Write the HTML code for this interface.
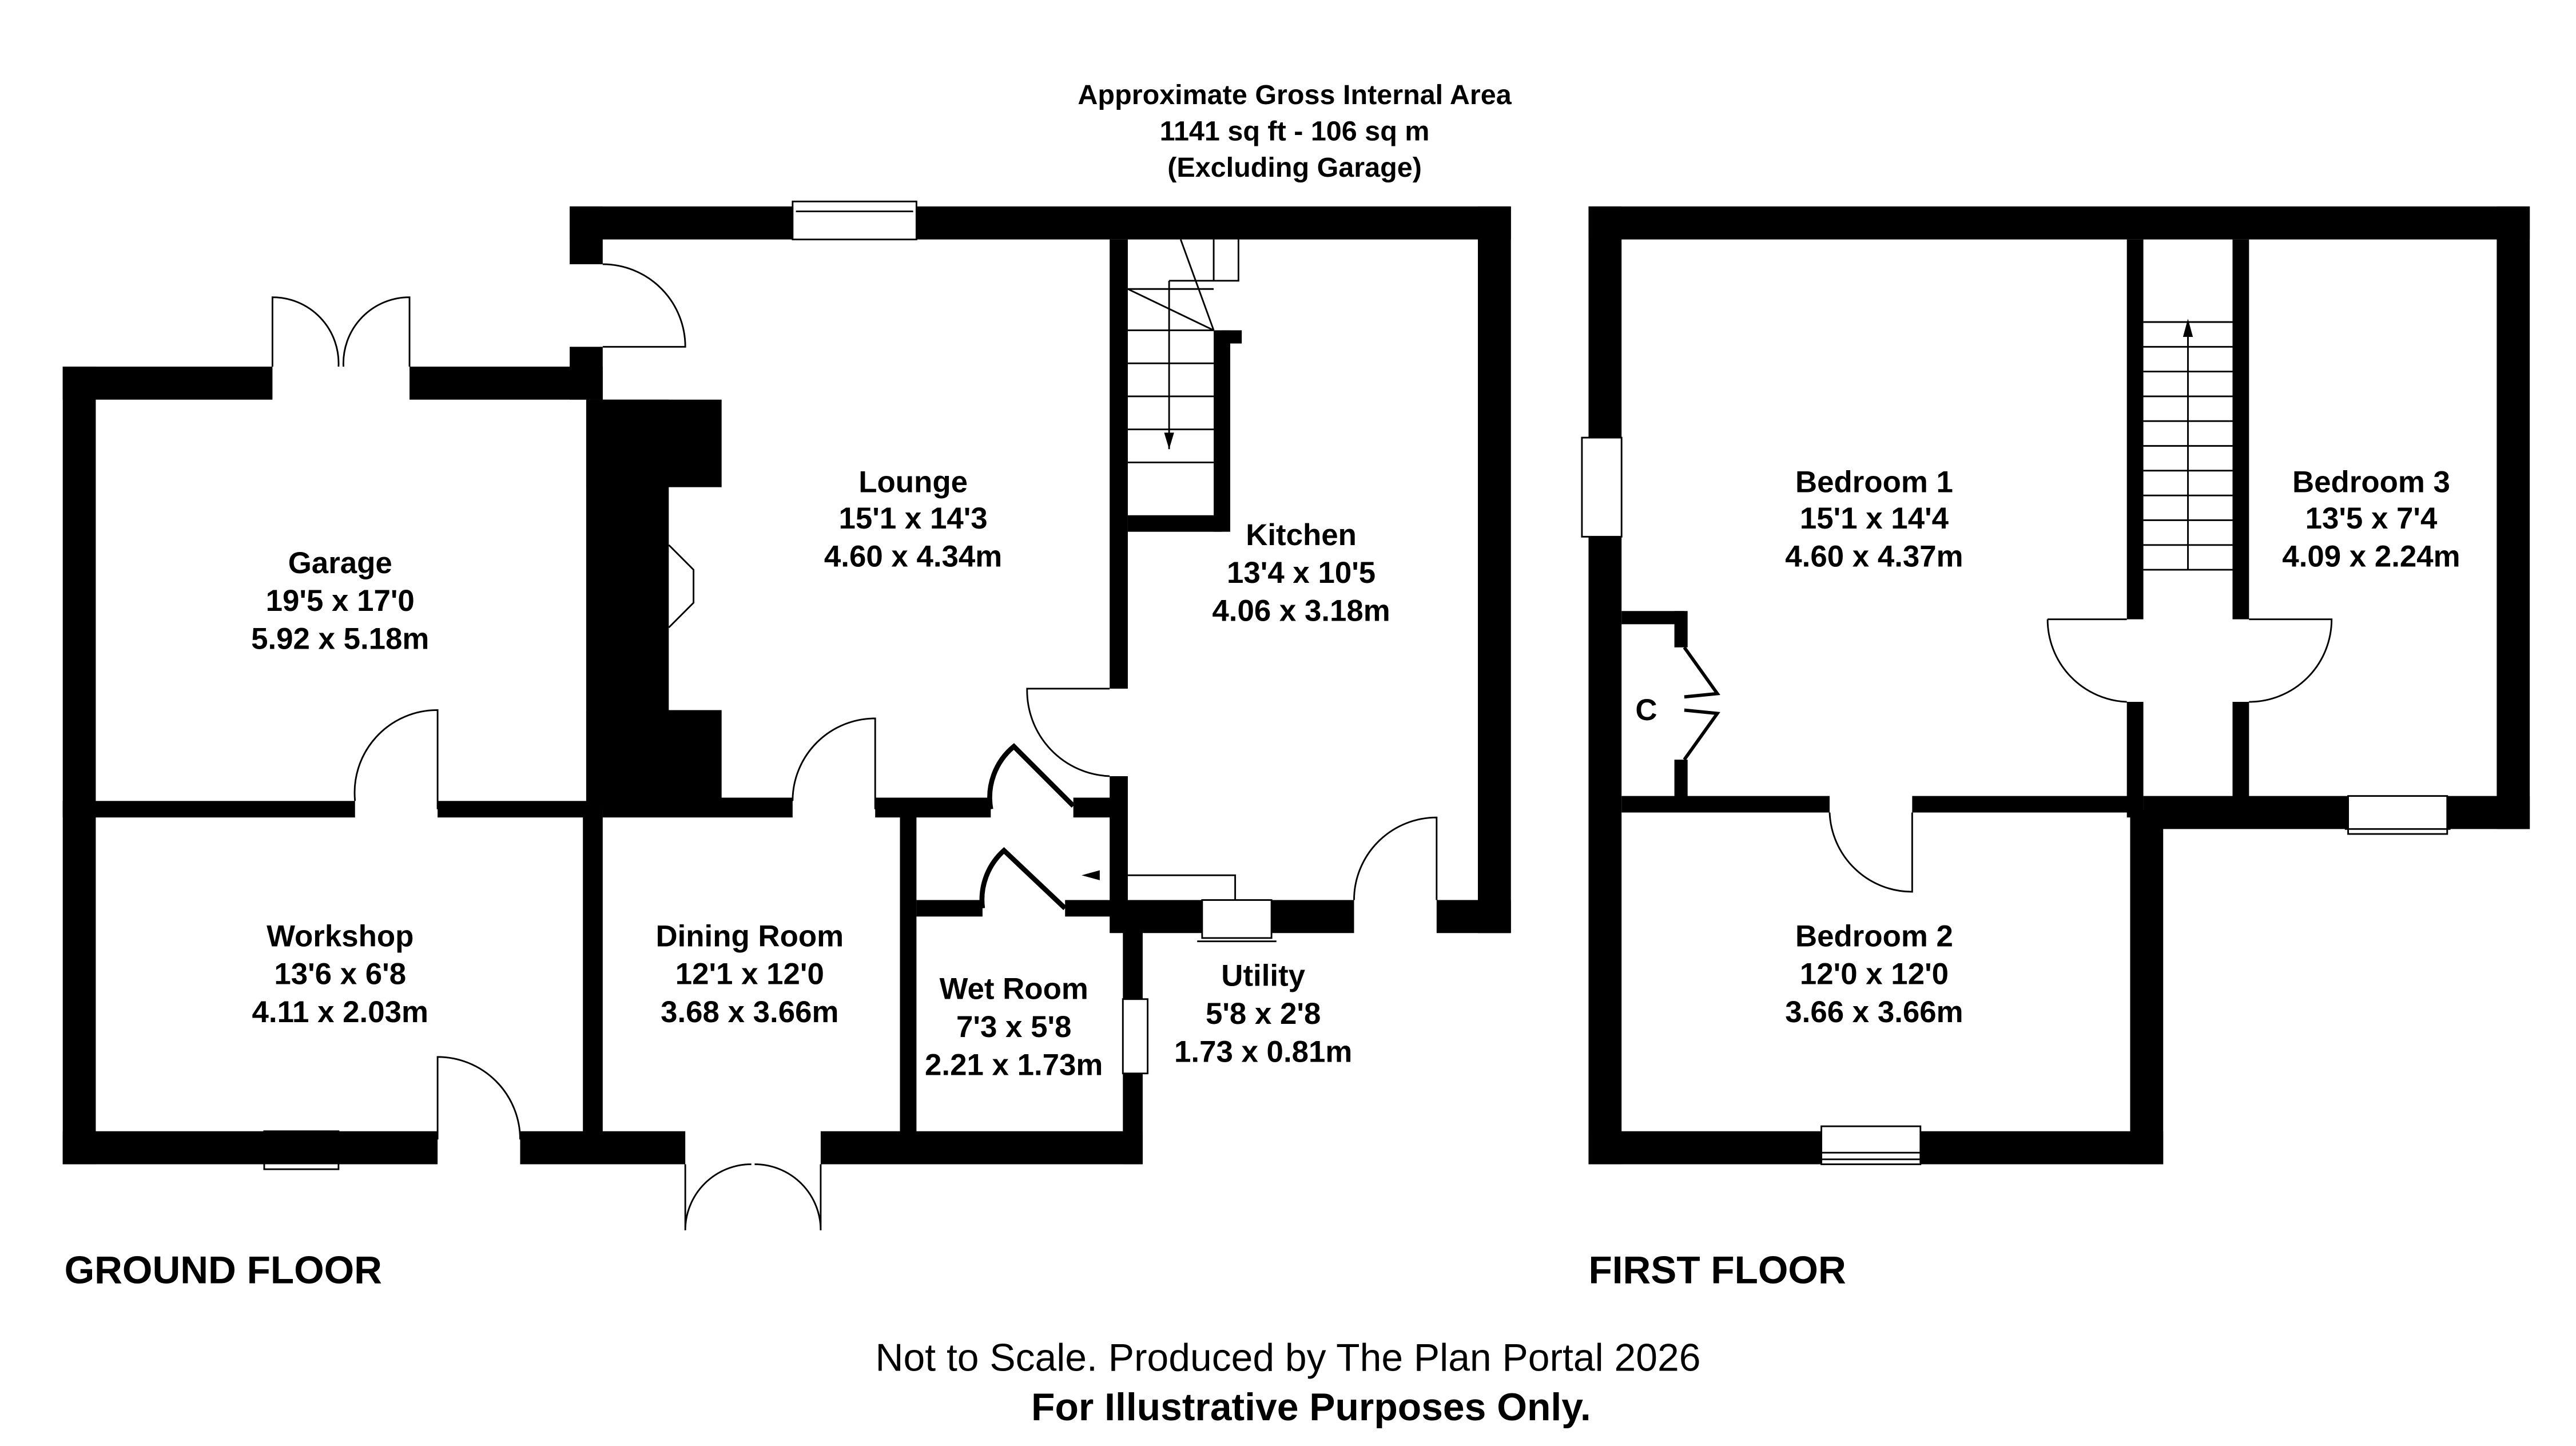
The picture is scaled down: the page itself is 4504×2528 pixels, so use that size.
<!DOCTYPE html>
<html><head><style>html,body{margin:0;padding:0;background:#fff}svg{display:block}</style></head>
<body>
<svg width="4504" height="2528" viewBox="0 0 1560 875.6" preserveAspectRatio="none" xmlns="http://www.w3.org/2000/svg" font-family="Liberation Sans, sans-serif">
<rect width="1560" height="876" fill="#fff"/>
<g fill="#000">
<rect x="345" y="125" width="135" height="20"/>
<rect x="555" y="125" width="360" height="20"/>
<rect x="345" y="125" width="20" height="35"/>
<rect x="345" y="210" width="20" height="32"/>
<rect x="38" y="222" width="127" height="20"/>
<rect x="248" y="222" width="117" height="20"/>
<rect x="38" y="222" width="20" height="483"/>
<rect x="895" y="125" width="20" height="440"/>
<rect x="355" y="242" width="82" height="53"/>
<rect x="355" y="242" width="50" height="248"/>
<rect x="355" y="430" width="82" height="60"/>
<rect x="38" y="485" width="177" height="10"/>
<rect x="265" y="485" width="100" height="10"/>
<rect x="353" y="490" width="12" height="200"/>
<rect x="38" y="685" width="227" height="20"/>
<rect x="315" y="685" width="100" height="20"/>
<rect x="497" y="685" width="195" height="20"/>
<rect x="365" y="483" width="115" height="12"/>
<rect x="530" y="483" width="70" height="12"/>
<rect x="650" y="483" width="32" height="12"/>
<rect x="545" y="490" width="10" height="200"/>
<rect x="555" y="545" width="40" height="10"/>
<rect x="645" y="545" width="37" height="10"/>
<rect x="680" y="545" width="12" height="60"/>
<rect x="680" y="650" width="12" height="55"/>
<rect x="672" y="145" width="11" height="272"/>
<rect x="672" y="470" width="11" height="95"/>
<rect x="683" y="312" width="57" height="10"/>
<rect x="735" y="200" width="10" height="122"/>
<rect x="740" y="200" width="12" height="8"/>
<rect x="683" y="545" width="45" height="20"/>
<rect x="770" y="545" width="50" height="20"/>
<rect x="870" y="545" width="45" height="20"/>
<rect x="962" y="125" width="570" height="20"/>
<rect x="962" y="125" width="20" height="140"/>
<rect x="962" y="325" width="20" height="380"/>
<rect x="1512" y="125" width="20" height="377"/>
<rect x="1288" y="145" width="10" height="230"/>
<rect x="1288" y="425" width="10" height="70"/>
<rect x="1352" y="145" width="10" height="230"/>
<rect x="1352" y="425" width="10" height="60"/>
<rect x="1298" y="482" width="124" height="20"/>
<rect x="1482" y="482" width="50" height="20"/>
<rect x="982" y="482" width="126" height="10"/>
<rect x="1158" y="482" width="140" height="10"/>
<rect x="1290" y="490" width="20" height="215"/>
<rect x="962" y="685" width="141" height="20"/>
<rect x="1163" y="685" width="147" height="20"/>
<rect x="982" y="370" width="38" height="8"/>
<rect x="1014" y="370" width="8" height="22"/>
<rect x="1014" y="460" width="8" height="25"/>
</g>
<g fill="none" stroke="#000" stroke-width="1">
<rect x="480" y="122" width="75" height="23"/><line x1="482" y1="128" x2="553" y2="128"/>
<rect x="728" y="545" width="42" height="23"/><line x1="725" y1="570" x2="773" y2="570"/>
<rect x="160" y="685" width="45" height="23"/><line x1="160" y1="702" x2="205" y2="702"/>
<rect x="680" y="605" width="15" height="45"/>
<rect x="958" y="265" width="24" height="60"/>
<rect x="1422" y="482" width="60" height="23"/><line x1="1420" y1="502" x2="1484" y2="502"/>
<rect x="1103" y="682" width="60" height="23"/><line x1="1103" y1="698" x2="1163" y2="698"/><line x1="1103" y1="702" x2="1163" y2="702"/>
<path d="M365 160 A50 50 0 0 1 415 210 L365 210"/>
<path d="M165 222 L165 180 A40 40 0 0 1 205 222 M248 222 L248 180 A40 40 0 0 0 208 222"/>
<path d="M265 490 L265 430 A50 50 0 0 0 215 485"/>
<path d="M265 690 L265 640 A50 50 0 0 1 315 690"/>
<path d="M415 705 L415 745 A40 40 0 0 1 455 705 M497 705 L497 745 A40 40 0 0 0 457 705"/>
<path d="M530 490 L530 435 A50 50 0 0 0 480 485"/>
<path d="M672 417 L622 417 A52 52 0 0 0 672 470"/>
<path d="M600 490 A40 40 0 0 1 614 452 L650 488" stroke-width="3"/>
<path d="M595 550 A40 40 0 0 1 608 515 L645 550" stroke-width="3"/>
<path d="M870 545 L870 495 A50 50 0 0 0 820 545"/>
<path d="M1240 375 L1288 375 M1240 375 A50 50 0 0 0 1288 425"/>
<path d="M1362 375 L1412 375 A50 50 0 0 1 1362 425"/>
<path d="M1158 492 L1158 540 A50 50 0 0 1 1108 492"/>
<path d="M1020 392 L1040 420 L1020 422 M1020 460 L1040 432 L1020 430" stroke-width="2"/>
<path d="M405 330 L420 345 L420 365 L405 380"/>
<line x1="683" y1="175" x2="735" y2="175"/><line x1="683" y1="200" x2="735" y2="200"/>
<line x1="683" y1="220" x2="735" y2="220"/><line x1="683" y1="240" x2="735" y2="240"/>
<line x1="683" y1="260" x2="735" y2="260"/><line x1="683" y1="280" x2="735" y2="280"/>
<line x1="708" y1="170" x2="708" y2="272"/><path d="M708 170 L750 170 L750 145 M735 200 L715 145 M683 175 L735 200 M735 145 L735 170"/>
<path d="M683 530 L748 530 L748 545"/>
<line x1="1298" y1="195" x2="1352" y2="195"/><line x1="1298" y1="210" x2="1352" y2="210"/><line x1="1298" y1="225" x2="1352" y2="225"/><line x1="1298" y1="240" x2="1352" y2="240"/><line x1="1298" y1="255" x2="1352" y2="255"/><line x1="1298" y1="270" x2="1352" y2="270"/><line x1="1298" y1="285" x2="1352" y2="285"/><line x1="1298" y1="300" x2="1352" y2="300"/><line x1="1298" y1="315" x2="1352" y2="315"/><line x1="1298" y1="330" x2="1352" y2="330"/><line x1="1298" y1="345" x2="1352" y2="345"/>
<line x1="1325" y1="200" x2="1325" y2="345"/>
</g>
<polygon points="708,272 705,262 711,262" fill="#000"/>
<polygon points="1325,193 1322,204 1328,204" fill="#000"/>
<polygon points="655,530 666,527 666,533" fill="#000"/>
<g font-weight="bold" font-size="18.3" text-anchor="middle" fill="#000">
<text x="784" y="63" font-size="16.8">Approximate Gross Internal Area</text>
<text x="784" y="85" font-size="16.8">1141 sq ft - 106 sq m</text>
<text x="784" y="107" font-size="16.8">(Excluding Garage)</text>
<text x="553" y="298">Lounge</text><text x="553" y="320">15'1 x 14'3</text><text x="553" y="343">4.60 x 4.34m</text>
<text x="788" y="330">Kitchen</text><text x="788" y="353">13'4 x 10'5</text><text x="788" y="376">4.06 x 3.18m</text>
<text x="206" y="347">Garage</text><text x="206" y="370">19'5 x 17'0</text><text x="206" y="393">5.92 x 5.18m</text>
<text x="206" y="573">Workshop</text><text x="206" y="596">13'6 x 6'8</text><text x="206" y="619">4.11 x 2.03m</text>
<text x="454" y="573">Dining Room</text><text x="454" y="596">12'1 x 12'0</text><text x="454" y="619">3.68 x 3.66m</text>
<text x="614" y="605">Wet Room</text><text x="614" y="628">7'3 x 5'8</text><text x="614" y="651">2.21 x 1.73m</text>
<text x="765" y="597">Utility</text><text x="765" y="620">5'8 x 2'8</text><text x="765" y="643">1.73 x 0.81m</text>
<text x="1135" y="298">Bedroom 1</text><text x="1135" y="320">15'1 x 14'4</text><text x="1135" y="343">4.60 x 4.37m</text>
<text x="1436" y="298">Bedroom 3</text><text x="1436" y="320">13'5 x 7'4</text><text x="1436" y="343">4.09 x 2.24m</text>
<text x="1135" y="573">Bedroom 2</text><text x="1135" y="596">12'0 x 12'0</text><text x="1135" y="619">3.66 x 3.66m</text>
<text x="997" y="436">C</text>
</g>
<g font-weight="bold" font-size="23.4" fill="#000">
<text x="39" y="777">GROUND FLOOR</text>
<text x="962" y="777">FIRST FLOOR</text>
</g>
<text x="780" y="830" font-size="23.5" text-anchor="middle" fill="#000">Not to Scale. Produced by The Plan Portal 2026</text>
<text x="794" y="860" font-size="23.5" font-weight="bold" text-anchor="middle" fill="#000">For Illustrative Purposes Only.</text>
</svg>
</body></html>
